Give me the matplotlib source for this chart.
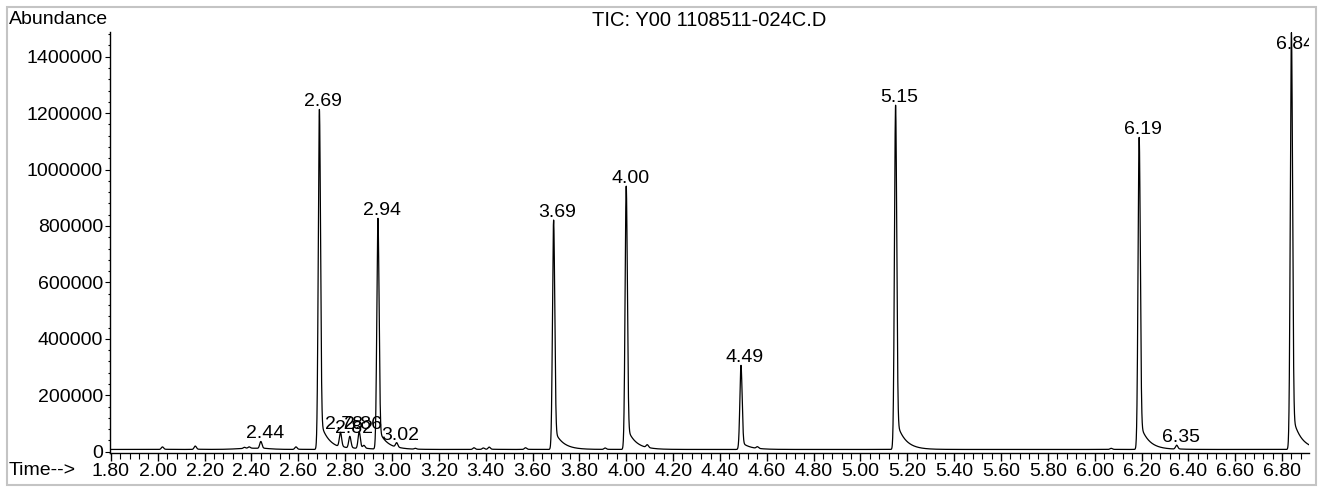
import numpy as np
import matplotlib
matplotlib.use("Agg")
import matplotlib.pyplot as plt
from matplotlib.ticker import MultipleLocator, FormatStrFormatter, FuncFormatter
from matplotlib.patches import Rectangle

plt.rcParams['font.family'] = ['Liberation Sans', 'DejaVu Sans']

# Labelled peaks: retention time (min) and apex height above baseline
labelled_times = [2.44, 2.69, 2.78, 2.82, 2.86, 2.94, 3.02, 3.69, 4.00, 4.49,
                  5.15, 6.19, 6.35, 6.84]
labelled_heights = [25000, 1205000, 52000, 42000, 60000, 818000, 16000,
                    813000, 933000, 298000, 1220000, 1106000, 14000, 1477000]

# Small unlabelled baseline features
minor_times = [2.02, 2.16, 2.37, 2.39, 2.59, 2.88, 3.10, 3.35, 3.39, 3.415,
               3.57, 3.91, 4.09, 4.56, 6.07]
minor_heights = [9000, 12000, 4000, 5000, 9000, 10000, 3000, 6000, 5000, 8000,
                 6000, 5000, 10000, 6000, 4000]

baseline_level = 8000
hump_time, hump_height, hump_width = 2.40, 4000, 0.06

title = "TIC: Y00 1108511-024C.D"
x_range = (1.796, 6.915)
y_range = (-4600, 1487500)

# Peak shape: gaussian front with an exponential tail
sigma = 0.0048
tail_frac = 0.09
tail_tau = 0.036


def peak(t, t0, h):
    g = np.exp(-0.5 * ((t - t0) / sigma) ** 2)
    dt = t - t0
    tail = np.where(dt >= 0, np.exp(-np.clip(dt, 0, None) / tail_tau), 0.0)
    return np.where(dt < 0, h * g, h * ((1 - tail_frac) * g + tail_frac * tail))


t = np.arange(1.80, 6.915, 0.0005)
signal = np.full_like(t, baseline_level, dtype=float)
signal += hump_height * np.exp(-0.5 * ((t - hump_time) / hump_width) ** 2)
for t0, h in zip(labelled_times + minor_times, labelled_heights + minor_heights):
    signal += peak(t, t0, h)

W, H = 1322, 487
fig = plt.figure(figsize=(W / 100, H / 100), dpi=100)
fig.patches.append(Rectangle((7 / W, 2 / H), 1309 / W, 478 / H,
                             transform=fig.transFigure, fill=False,
                             edgecolor='#c4c4c4', linewidth=1.5))

ax = fig.add_axes([110 / W, 34 / H, (1309 - 110) / W, (453 - 32) / H])
ax.plot(t, signal, color='black', linewidth=0.9)
ax.set_xlim(*x_range)
ax.set_ylim(*y_range)

for s in ('top', 'right'):
    ax.spines[s].set_visible(False)
for s in ('left', 'bottom'):
    ax.spines[s].set_linewidth(1.0)

ax.xaxis.set_major_locator(MultipleLocator(0.2))
ax.xaxis.set_minor_locator(MultipleLocator(0.04))
ax.xaxis.set_major_formatter(FormatStrFormatter('%.2f'))
ax.yaxis.set_major_locator(MultipleLocator(200000))
ax.yaxis.set_minor_locator(MultipleLocator(40000))
ax.yaxis.set_major_formatter(FuncFormatter(lambda v, p: f"{int(round(v))}"))

ax.tick_params(axis='x', which='major', length=6, width=1, pad=1, labelsize=14)
ax.tick_params(axis='x', which='minor', length=4, width=0.8)
ax.tick_params(axis='y', which='major', length=3.6, width=0.8, pad=1.5, labelsize=14)
ax.tick_params(axis='y', which='minor', length=1.5, width=0.8)

# Peak labels, kept inside the plotting area
y_cap = y_range[1] - 70000
for t0 in labelled_times:
    top = float(np.interp(t0, t, signal))
    ax.annotate(f"{t0:.2f}", xy=(t0, min(top, y_cap)), xytext=(4, 3),
                textcoords='offset pixels', ha='center', va='baseline',
                fontsize=14, clip_on=True, annotation_clip=True)

fig.text(9 / W, 1 - 20 / H, "Abundance", ha='left', va='center', fontsize=14)
fig.text(709 / W, 1 - 21 / H, title, ha='center', va='center', fontsize=14.5)
fig.text(9 / W, 1 - 462 / H, "Time-->", ha='left', va='top', fontsize=14)

fig.savefig("out.png", dpi=100)
